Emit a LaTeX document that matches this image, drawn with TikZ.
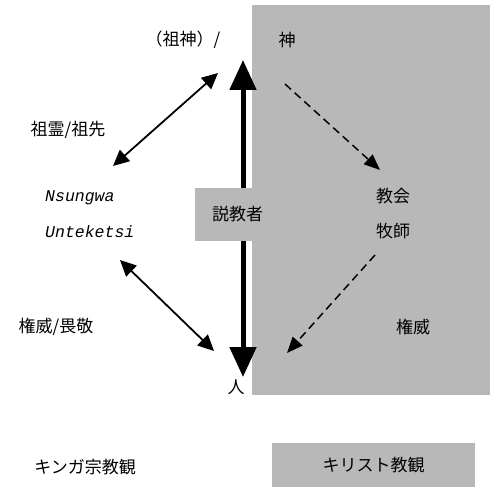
\documentclass[tikz,border=0pt]{standalone}
\usepackage{fontspec}
\setmainfont{Liberation Serif}
\newfontfamily\cjk{Noto Sans CJK JP}
\newfontfamily\latmono{Liberation Mono}
\usetikzlibrary{arrows.meta}
\definecolor{grayfill}{gray}{0.72}
\tikzset{
  lbl/.style={font=\cjk\fontsize{17}{19}\selectfont, inner sep=0pt},
  rom/.style={font=\latmono\itshape\fontsize{16.5}{19}\selectfont, inner sep=0pt, anchor=west},
  thickarrow/.style={line width=5pt, {Triangle[length=30pt,width=26pt]}-{Triangle[length=30pt,width=26pt]}},
  thinarrow/.style={line width=1.8pt, {Triangle[length=16pt,width=15pt]}-{Triangle[length=16pt,width=15pt]}},
  dasharrow/.style={line width=1.5pt, dash pattern=on 8pt off 5pt, -{Triangle[length=16pt,width=13pt]}},
  graybox/.style={fill=grayfill, draw=none}
}
\begin{document}
\begin{tikzpicture}[x=1pt,y=-1pt]
\useasboundingbox (0,0) rectangle (490,500);
\fill[grayfill] (252,5) rectangle (490,395);
% nodes
\node[lbl] (sojin) at (183,40) {（祖神）/};
\node[lbl] (kami) at (287,40) {神};
\node[lbl] (hito) at (236,387) {人};
\coordinate (top) at (243,60);
\coordinate (bot) at (243,377);
\draw[thickarrow] (top) -- (bot);
\node[graybox, minimum width=85pt, minimum height=53pt, inner sep=0pt] (sekkyo) at (237.5,214.5) {};
\node[lbl] at (sekkyo) {説教者};
\node[lbl] (sorei) at (68,130) {祖霊/祖先};
\node[rom] (nsu) at (45,198) {Nsungwa};
\node[rom] (unt) at (45,232) {Unteketsi};
\node[lbl] (ken1) at (56,327) {権威/畏敬};
\node[lbl] (kyokai) at (393,196) {教会};
\node[lbl] (bokushi) at (393,231) {牧師};
\node[lbl] (ken2) at (413,327) {権威};
\coordinate (a1) at (218,73);
\coordinate (a2) at (113,166);
\draw[thinarrow] (a1) -- (a2);
\coordinate (b1) at (120,260);
\coordinate (b2) at (214,351);
\draw[thinarrow] (b1) -- (b2);
\coordinate (d1) at (285,84);
\coordinate (d2) at (380,170);
\draw[dasharrow] (d1) -- (d2);
\coordinate (e1) at (375,255);
\coordinate (e2) at (287,353);
\draw[dasharrow] (e1) -- (e2);
% legend
\node[lbl] (kinga) at (85,467) {キンガ宗教観};
\node[graybox, minimum width=203pt, minimum height=44pt, inner sep=0pt] (leg) at (373.5,465) {};
\node[lbl] at (leg) {キリスト教観};
\end{tikzpicture}
\end{document}
